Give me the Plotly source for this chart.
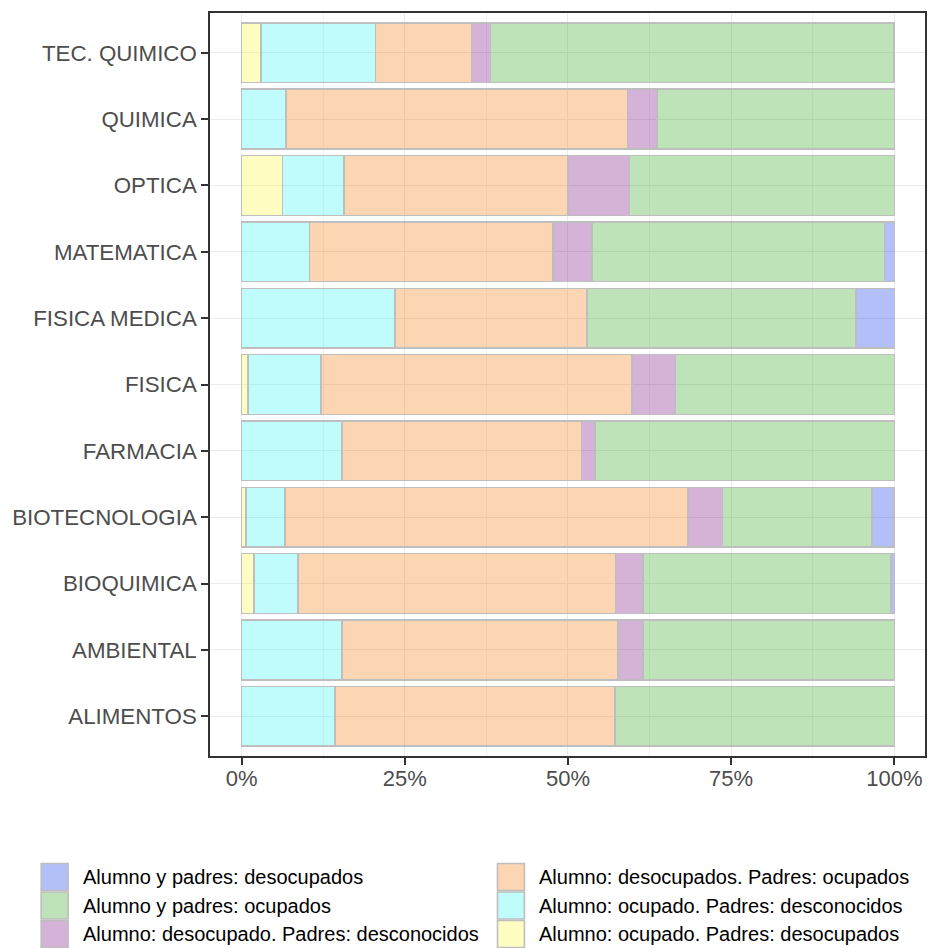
import plotly.graph_objects as go

# careers, bottom to top as they appear on the y axis
carreras = ["ALIMENTOS", "AMBIENTAL", "BIOQUIMICA", "BIOTECNOLOGIA", "FARMACIA", "FISICA",
            "FISICA MEDICA", "MATEMATICA", "OPTICA", "QUIMICA", "TEC. QUIMICO"]

# percentages per career (same order as carreras)
ocupado_padres_desocupados = [0, 0, 1.9, 0.66, 0, 1.0, 0, 0, 6.25, 0, 2.94]
ocupado_padres_desconocidos = [14.3, 15.4, 6.7, 6.0, 15.4, 11.2, 23.5, 10.4, 9.4, 6.8, 17.6]
desocupados_padres_ocupados = [42.9, 42.3, 48.7, 61.7, 36.7, 47.6, 29.4, 37.3, 34.4, 52.3, 14.7]
desocupado_padres_desconocidos = [0, 3.8, 4.2, 5.3, 2.0, 6.7, 0, 6.0, 9.4, 4.5, 2.9]
todos_ocupados = [42.8, 38.5, 38.0, 22.9, 45.9, 33.5, 41.2, 44.8, 40.6, 36.4, 61.8]
todos_desocupados = [0, 0, 0.5, 3.4, 0, 0, 5.9, 1.5, 0, 0, 0]

x_ticks = [0, 25, 50, 75, 100]
x_ticklabels = ["0%", "25%", "50%", "75%", "100%"]

# stacking order, left to right
series = [
    ("Alumno: ocupado. Padres: desocupados", ocupado_padres_desocupados, "rgba(255,248,52,0.3)"),
    ("Alumno: ocupado. Padres: desconocidos", ocupado_padres_desconocidos, "rgba(45,245,245,0.3)"),
    ("Alumno: desocupados. Padres: ocupados", desocupados_padres_ocupados, "rgba(245,115,0,0.3)"),
    ("Alumno: desocupado. Padres: desconocidos", desocupado_padres_desconocidos, "rgba(115,0,125,0.3)"),
    ("Alumno y padres: ocupados", todos_ocupados, "rgba(42,162,22,0.3)"),
    ("Alumno y padres: desocupados", todos_desocupados, "rgba(0,42,235,0.3)"),
]

# legend layout: two columns, ggplot style
legend_cols = [
    ["Alumno y padres: desocupados", "Alumno y padres: ocupados", "Alumno: desocupado. Padres: desconocidos"],
    ["Alumno: desocupados. Padres: ocupados", "Alumno: ocupado. Padres: desconocidos", "Alumno: ocupado. Padres: desocupados"],
]

W, H = 928, 948
ML, MR, MT, MB = 210, 1, 13, 192
FONT = "Liberation Sans, Arial, sans-serif"
BORDER = "#BEBEBE"


def px(x):
    return (x - ML) / (W - ML - MR)


def py(y):
    return (H - MB - y) / (H - MT - MB)


fig = go.Figure()
for name, vals, color in series:
    fig.add_trace(go.Bar(
        y=carreras, x=vals, name=name, orientation='h',
        marker=dict(color=color, line=dict(color=BORDER, width=1.6)),
        showlegend=False,
    ))

colors = {name: color for name, _, color in series}
shapes, annotations = [], []
col_x = [40.7, 498.3]
row_y = [877, 905.5, 934]
key = 27
for ci, names in enumerate(legend_cols):
    for ri, name in enumerate(names):
        x0, yc = col_x[ci], row_y[ri]
        shapes.append(dict(
            type='rect', xref='paper', yref='paper',
            x0=px(x0), x1=px(x0 + key), y0=py(yc + key / 2), y1=py(yc - key / 2),
            fillcolor=colors[name], line=dict(color=BORDER, width=1.6),
        ))
        annotations.append(dict(
            xref='paper', yref='paper', x=px(x0 + 40), y=py(yc),
            xanchor='left', yanchor='middle', showarrow=False,
            text=name, font=dict(size=20, color='black', family=FONT),
        ))

fig.update_layout(
    width=W, height=H,
    margin=dict(l=ML, r=MR, t=MT, b=MB),
    barmode='stack', bargap=0.1,
    plot_bgcolor='white', paper_bgcolor='white',
    font=dict(family=FONT),
    showlegend=False,
    shapes=shapes, annotations=annotations,
    xaxis=dict(
        range=[-4.84, 104.7], tickvals=x_ticks, ticktext=x_ticklabels,
        tickfont=dict(size=22, color='#4D4D4D'), ticklabelstandoff=-5,
        ticks='outside', ticklen=7, tickwidth=1.5, tickcolor='#333333',
        showline=True, mirror=True, linecolor='#333333', linewidth=1.5,
        showgrid=True, gridcolor='#EBEBEB', gridwidth=1.3, zeroline=False,
        minor=dict(dtick=12.5, tick0=0, showgrid=True, gridcolor='#F3F3F3', gridwidth=0.8),
    ),
    yaxis=dict(
        categoryorder='array', categoryarray=carreras, range=[-0.6, 10.6],
        tickfont=dict(size=22.3, color='#4D4D4D'),
        ticks='outside', ticklen=7, tickwidth=1.5, tickcolor='#333333',
        showline=True, mirror=True, linecolor='#333333', linewidth=1.5,
        showgrid=True, gridcolor='#EBEBEB', gridwidth=1.3, zeroline=False,
    ),
)

# drop the default page margin so the figure fills the window exactly
fig.write_html("out.html", config={'displayModeBar': False},
               post_script="document.body.style.margin='0';document.body.style.overflow='hidden';")
